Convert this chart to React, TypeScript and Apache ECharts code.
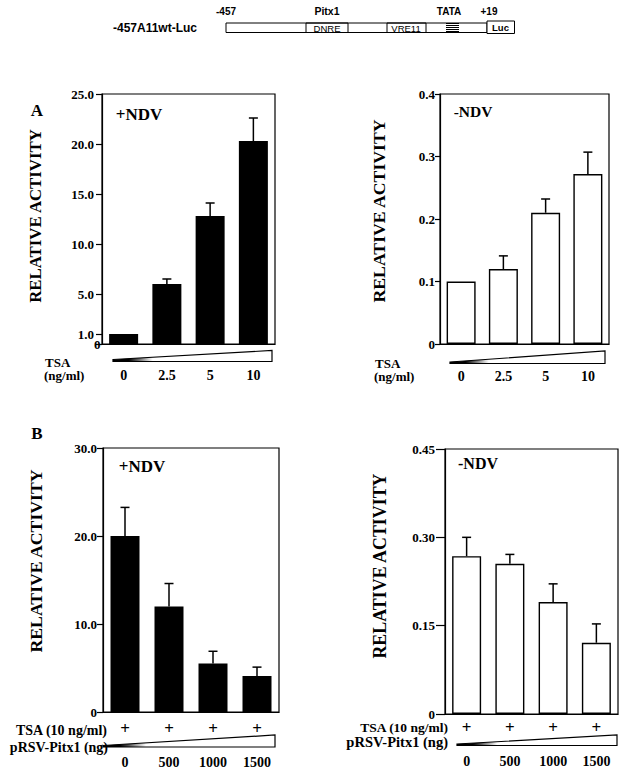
import React, { useEffect, useRef } from "react";
import * as echarts from "echarts";

// ---------- data ----------
const TSA_DOSES = ["0", "2.5", "5", "10"];
const PITX_DOSES = ["0", "500", "1000", "1500"];
const TSA_PLUS = ["+", "+", "+", "+"];

const A_NDV_PLUS = [1.0, 6.0, 12.8, 20.3];
const A_NDV_PLUS_SD = [0, 0.5, 1.3, 2.3];
const A_NDV_MINUS = [0.1, 0.12, 0.21, 0.272];
const A_NDV_MINUS_SD = [0, 0.021, 0.022, 0.035];
const B_NDV_PLUS = [20.0, 12.0, 5.5, 4.1];
const B_NDV_PLUS_SD = [3.25, 2.6, 1.4, 1.0];
const B_NDV_MINUS = [0.268, 0.255, 0.19, 0.121];
const B_NDV_MINUS_SD = [0.032, 0.016, 0.031, 0.032];

const A_PLUS_TICKS = [0, 1, 5, 10, 15, 20, 25];
const A_PLUS_LABELS = [1, 5, 10, 15, 20, 25];
const A_PLUS_ZERO = [0];
const A_MINUS_TICKS = [0, 0.1, 0.2, 0.3, 0.4];
const B_PLUS_TICKS = [0, 10, 20, 30];
const B_MINUS_TICKS = [0, 0.15, 0.3, 0.45];

const SERIF = '"Liberation Serif", "Times New Roman", serif';
const SANS = '"Liberation Sans", Arial, sans-serif';

function errRender(params: any, api: any) {
  const i = api.value(0);
  const top = api.value(1);
  const sd = api.value(2);
  if (!sd) return null;
  const p0 = api.coord([i, top]);
  const p1 = api.coord([i, top + sd]);
  return {
    type: "group",
    children: [
      { type: "line", shape: { x1: p0[0], y1: p0[1], x2: p1[0], y2: p1[1] }, style: { stroke: "#000", lineWidth: 1.5 } },
      { type: "line", shape: { x1: p1[0] - 4.5, y1: p1[1], x2: p1[0] + 4.5, y2: p1[1] }, style: { stroke: "#000", lineWidth: 1.5 } },
    ],
  };
}

function txt(text: string, x: number, y: number, size: number, opts: any = {}) {
  return {
    type: "text",
    x,
    y,
    rotation: opts.rotation || 0,
    style: {
      text,
      fontSize: size,
      fontWeight: opts.weight || "bold",
      fontFamily: opts.family || SERIF,
      fill: "#000",
      textAlign: opts.align || "center",
      textVerticalAlign: "middle",
    },
  };
}

function wedge(xl: number, yl: number, xr: number, yt: number, yb: number) {
  return {
    type: "polygon",
    shape: { points: [[xl, yl], [xr, yt], [xr, yb], [xl, yb]] },
    style: {
      fill: new echarts.graphic.LinearGradient(0, 0, 1, 0, [
        { offset: 0, color: "#000" },
        { offset: 0.1, color: "#000" },
        { offset: 0.25, color: "#fff" },
        { offset: 1, color: "#fff" },
      ]),
      stroke: "#000",
      lineWidth: 1.2,
    },
  };
}

export default function App() {
  const ref = useRef<HTMLDivElement>(null);
  useEffect(() => {
    if (!ref.current) return;
    const chart = echarts.init(ref.current, null, { renderer: "svg" });

    const grids = [
      { left: 102, top: 94, width: 173, height: 250 },
      { left: 440, top: 94, width: 169, height: 250 },
      { left: 103, top: 448, width: 176, height: 265 },
      { left: 445, top: 449, width: 173, height: 265 },
    ].map((g) => ({ ...g, show: true, borderColor: "#000", borderWidth: 1.2, backgroundColor: "transparent", containLabel: false }));

    const xAx = (gridIndex: number, data: string[], margin: number, fontSize: number, line = true) => ({
      type: "category",
      gridIndex,
      data,
      boundaryGap: true,
      position: "bottom",
      axisLine: { show: line, lineStyle: { color: "#000", width: 1.2 } },
      axisTick: { show: false },
      splitLine: { show: false },
      axisLabel: { margin, fontSize, fontWeight: "bold", fontFamily: SERIF, color: "#000", interval: 0, hideOverlap: false },
    });

    const yAx = (
      gridIndex: number,
      max: number,
      ticks: number[],
      labels: number[],
      digits: number,
      margin: number,
      tickLen: number,
      line = true,
      padTop = 0
    ) => ({
      type: "value",
      gridIndex,
      position: "left",
      offset: 0,
      min: 0,
      max,
      axisLine: { show: line, lineStyle: { color: "#000", width: 1.2 } },
      axisTick: { show: line, length: tickLen, customValues: ticks, lineStyle: { color: "#000", width: 1.2 } },
      splitLine: { show: false },
      axisLabel: {
        customValues: labels,
        hideOverlap: false,
        showMinLabel: true,
        showMaxLabel: true,
        margin,
        fontSize: 13,
        lineHeight: 9,
        padding: [padTop, 0, 0, 0],
        fontWeight: "bold",
        fontFamily: SERIF,
        color: "#000",
        formatter: (v: number) => (v === 0 ? "0" : v.toFixed(digits)),
      },
    });

    const barSeries = (idx: number, data: number[], filled: boolean) => ({
      type: "bar",
      xAxisIndex: idx,
      yAxisIndex: idx,
      data,
      barWidth: 29,
      itemStyle: filled
        ? { color: "#000" }
        : { color: "#fff", borderColor: "#000", borderWidth: 1.4 },
    });

    const errSeries = (idx: number, vals: number[], sd: number[]) => ({
      type: "custom",
      xAxisIndex: idx,
      yAxisIndex: idx,
      z: 5,
      renderItem: errRender,
      encode: { x: 0, y: 1 },
      data: vals.map((v, i) => [i, v, sd[i]]),
    });

    const graphic: any[] = [
      // promoter diagram
      txt("-457A11wt-Luc", 155, 28, 12, { family: SANS }),
      txt("-457", 226, 11, 10, { family: SANS }),
      txt("Pitx1", 327, 11, 10.5, { family: SANS }),
      txt("TATA", 449, 11, 10, { family: SANS }),
      txt("+19", 489, 11, 10, { family: SANS }),
      { type: "rect", shape: { x: 226, y: 23, width: 261, height: 9.5 }, style: { fill: "#fff", stroke: "#000", lineWidth: 1 } },
      { type: "rect", shape: { x: 306, y: 23, width: 42, height: 9.5 }, style: { fill: "none", stroke: "#000", lineWidth: 1 } },
      { type: "rect", shape: { x: 387, y: 23, width: 39, height: 9.5 }, style: { fill: "none", stroke: "#000", lineWidth: 1 } },
      txt("DNRE", 327, 28, 9.5, { family: SANS, weight: "normal" }),
      txt("VRE11", 406, 28, 9.5, { family: SANS, weight: "normal" }),
      ...[24, 26, 28, 30, 32].map((y) => ({ type: "line", shape: { x1: 446, y1: y - 0.5, x2: 459, y2: y - 0.5 }, style: { stroke: "#000", lineWidth: 1 } })),
      { type: "rect", shape: { x: 487, y: 21, width: 27.5, height: 12.5 }, style: { fill: "#fff", stroke: "#000", lineWidth: 1 } },
      txt("Luc", 500.5, 27.5, 9.5, { family: SANS }),

      // panel letters
      txt("A", 37, 110, 17),
      txt("B", 37, 433, 17),

      // y-axis titles
      txt("RELATIVE ACTIVITY", 35, 216, 16.8, { rotation: Math.PI / 2 }),
      txt("RELATIVE ACTIVITY", 379, 211, 17.7, { rotation: Math.PI / 2 }),
      txt("RELATIVE ACTIVITY", 35.5, 561, 17.7, { rotation: Math.PI / 2 }),
      txt("RELATIVE ACTIVITY", 379.5, 566, 17.9, { rotation: Math.PI / 2 }),

      // in-plot labels
      txt("+NDV", 139, 114, 17),
      txt("-NDV", 473, 111, 15.5),
      txt("+NDV", 142, 466, 17),
      txt("-NDV", 478, 463, 16),

      // panel A bottom
      txt("TSA", 45, 362, 13, { align: "left" }),
      txt("(ng/ml)", 44, 375.5, 13, { align: "left" }),
      txt("TSA", 375, 363, 13, { align: "left" }),
      txt("(ng/ml)", 374, 376.5, 13, { align: "left" }),
      wedge(113, 359.5, 272, 350.5, 361.5),
      wedge(450, 362, 605, 351, 363.5),

      // panel B bottom
      txt("TSA (10 ng/ml)", 107, 730, 14, { align: "right" }),
      txt("pRSV-Pitx1 (ng)", 108, 747, 14, { align: "right" }),
      txt("TSA (10 ng/ml)", 448, 727.5, 13.5, { align: "right" }),
      txt("pRSV-Pitx1 (ng)", 448, 742, 14.5, { align: "right" }),
      wedge(103, 745.5, 275, 735, 747),
      wedge(457, 744, 617, 735, 745.5),
    ];

    chart.setOption({
      animation: false,
      backgroundColor: "#fff",
      grid: grids,
      xAxis: [
        xAx(0, TSA_DOSES, 24, 14),
        xAx(1, TSA_DOSES, 25, 14),
        xAx(2, PITX_DOSES, 43, 14),
        xAx(3, PITX_DOSES, 40, 14),
        xAx(2, TSA_PLUS, 8, 17, false),
        xAx(3, TSA_PLUS, 5, 17, false),
      ],
      yAxis: [
        yAx(0, 25, A_PLUS_TICKS, A_PLUS_LABELS, 1, 8, 6),
        yAx(1, 0.4, A_MINUS_TICKS, A_MINUS_TICKS, 1, 5, 5),
        yAx(2, 30, B_PLUS_TICKS, B_PLUS_TICKS, 1, 6, 6),
        yAx(3, 0.45, B_MINUS_TICKS, B_MINUS_TICKS, 2, 10, 9),
        yAx(0, 25, A_PLUS_ZERO, A_PLUS_ZERO, 1, 1.5, 0, false, 4),
      ],
      series: [
        barSeries(0, A_NDV_PLUS, true),
        barSeries(1, A_NDV_MINUS, false),
        barSeries(2, B_NDV_PLUS, true),
        barSeries(3, B_NDV_MINUS, false),
        errSeries(0, A_NDV_PLUS, A_NDV_PLUS_SD),
        errSeries(1, A_NDV_MINUS, A_NDV_MINUS_SD),
        errSeries(2, B_NDV_PLUS, B_NDV_PLUS_SD),
        errSeries(3, B_NDV_MINUS, B_NDV_MINUS_SD),
      ],
      graphic,
    });
    return () => chart.dispose();
  }, []);
  return <div ref={ref} style={{ position: "absolute", left: 0, top: 0, width: 627, height: 769 }} />;
}
